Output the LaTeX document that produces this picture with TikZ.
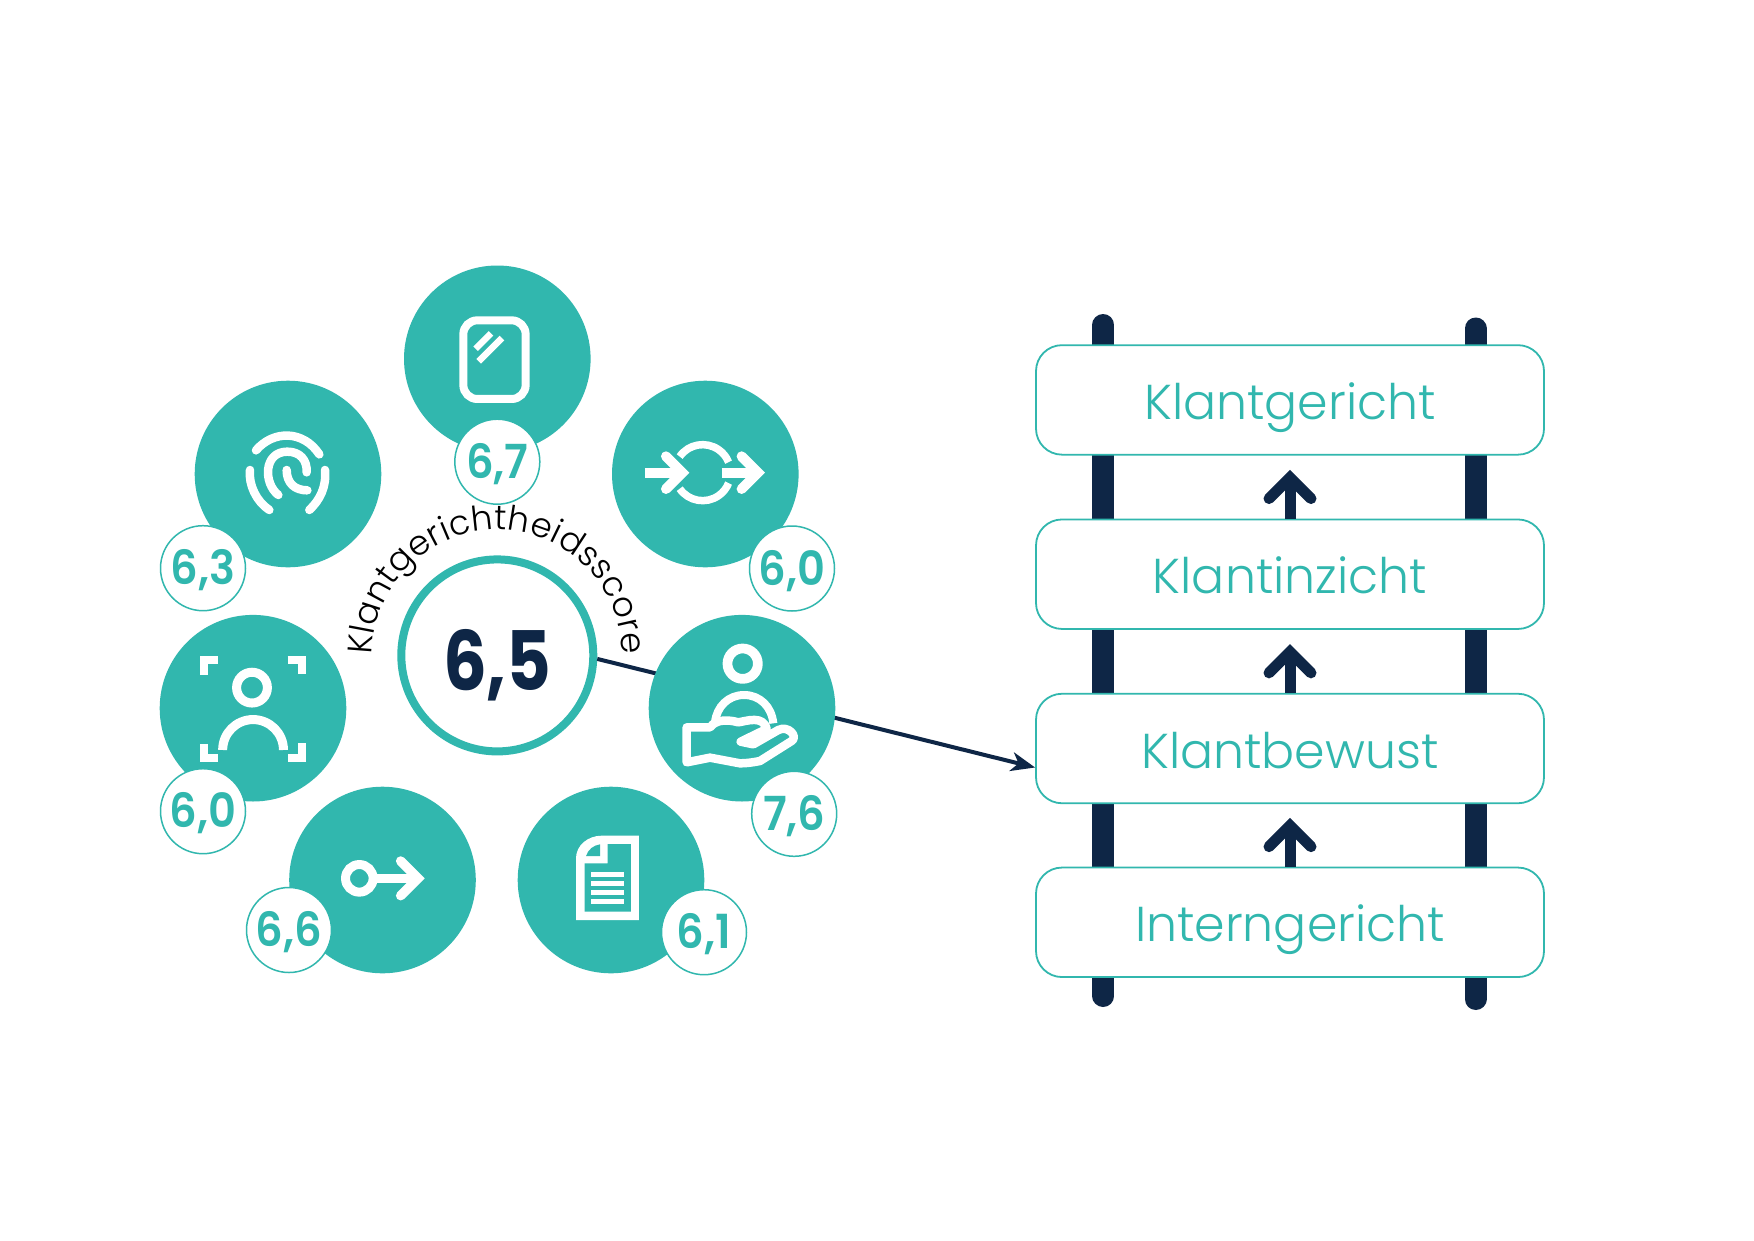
\documentclass[tikz,border=0pt]{standalone}
\usepackage{graphicx}
\usepackage{fontspec}
\setmainfont{Poppins}
\newfontfamily\lightf{Poppins Light}
\newfontfamily\medf{Poppins SemiBold}
\usetikzlibrary{arrows.meta,decorations.text}
\definecolor{teal1}{HTML}{31B7AE}
\definecolor{navy1}{HTML}{0E2646}
\newcommand\arcfont{\lightf\fontsize{34}{34}\selectfont}
\newcommand\bnum[1]{\scalebox{.92}[1]{#1}}
\tikzset{
  bigc/.style={circle,fill=teal1,minimum size=186.6pt,inner sep=0pt},
  badge/.style={circle,draw=teal1,fill=white,line width=1.5pt,minimum size=85pt,inner sep=0pt,text=teal1,
    font=\medf\fontsize{47}{47}\selectfont,text height=33pt,text depth=0pt},
  ring/.style={circle,draw=teal1,fill=white,line width=8pt,minimum size=192pt,inner sep=0pt,text=navy1,
    font=\bfseries\fontsize{82}{82}\selectfont,text height=70pt,text depth=0pt},
  rungbox/.style={rectangle,rounded corners=26pt,draw=teal1,fill=white,line width=1.8pt,minimum width=508pt,minimum height=109.5pt,
    inner sep=0pt,text=teal1,font=\lightf\fontsize{49}{49}\selectfont,text height=50pt,text depth=10.8pt},
  rail/.style={draw=navy1,line width=22pt,line cap=round},
  rungline/.style={draw=navy1,line width=11pt,shorten >=23pt},
  runghead/.style={draw=navy1,line width=11pt,line cap=round,miter limit=10},
  icon/.style={draw=white,line width=8.5pt,line cap=round,line join=round},
  iconb/.style={draw=white,line width=9pt,line cap=butt,line join=miter},
  iconm/.style={draw=white,line width=9.5pt,line cap=round,line join=miter,miter limit=10},
  link/.style={draw=navy1,line width=4pt,-{Stealth[length=24pt,width=19pt,inset=7pt]}},
}
\begin{document}
\begin{tikzpicture}[x=1pt,y=-1pt]
\useasboundingbox (0,0) rectangle (1754,1240);
\fill[white] (0,0) rectangle (1754,1240);

% ladder rails
\coordinate (rat) at (1103.3,325);
\coordinate (rab) at (1103.3,996);
\coordinate (rbt) at (1475.5,328.5);
\coordinate (rbb) at (1475.5,999);
\draw[rail] (rat) -- (rab);
\draw[rail] (rbt) -- (rbb);

% ladder boxes
\node[rungbox] (b1) at (1290,399.9) {Klantgericht};
\node[rungbox] (b2) at (1290,574.2) {Klantinzicht};
\node[rungbox] (b3) at (1290,748.5) {Klantbewust};
\node[rungbox] (b4) at (1290,922.3) {Interngericht};

% rung arrows
\draw[rungline] (b2.north) -- (b1.south);
\draw[runghead] ([shift={(-21,-20)}]b2.north) -- ([shift={(0,-41)}]b2.north) -- ([shift={(21,-20)}]b2.north);
\draw[rungline] (b3.north) -- (b2.south);
\draw[runghead] ([shift={(-21,-20)}]b3.north) -- ([shift={(0,-41)}]b3.north) -- ([shift={(21,-20)}]b3.north);
\draw[rungline] (b4.north) -- (b3.south);
\draw[runghead] ([shift={(-21,-20)}]b4.north) -- ([shift={(0,-41)}]b4.north) -- ([shift={(21,-20)}]b4.north);

% centre score and link
\node[ring] (score) at (497.3,655.4) {\scalebox{.84}[1]{6,5}};
\draw[link] (score.-2) -- ([yshift=-19pt]b3.west);

% big circles
\node[bigc] (top) at (497.3,358.8) {};
\node[bigc] (tr)  at (705.3,474) {};
\node[bigc] (tl)  at (288,474) {};
\node[bigc] (l)   at (253,708.2) {};
\node[bigc] (r)   at (742,708.2) {};
\node[bigc] (bl)  at (382.5,880) {};
\node[bigc] (br)  at (611,880) {};

% tablet and shuffle icons
\begin{scope}[shift={(380,250)},x=.3333pt,y=-.3333pt]
\draw[draw=white,line width=8pt,rounded corners=14pt] (250,211) rectangle (437,447);
\draw[draw=white,line width=6.4pt] (287,296) -- (333,250);
\draw[draw=white,line width=6.4pt] (296,334) -- (366,264);
\draw[draw=white,line width=7.5pt] (968,668) ++(145:28pt) arc[start angle=145,end angle=22,radius=28pt];
\draw[draw=white,line width=7.5pt] (968,668) ++(215:28pt) arc[start angle=215,end angle=338,radius=28pt];
\draw[draw=white,line width=10pt] (795,668) -- (905,668);
\draw[draw=white,line width=10pt] (1025,668) -- (1132,668);
\draw[draw=white,line width=10pt,line cap=round,line join=miter,miter limit=10] (858,619) -- (907,668) -- (858,717);
\draw[draw=white,line width=10pt,line cap=round,line join=miter,miter limit=10] (1085,619) -- (1134,668) -- (1085,717);
\end{scope}

% fingerprint icon
\begin{scope}[shift={(230,415)},x=.3333pt,y=-.3333pt]
\draw[icon] (78,106) .. controls (130,45) and (220,45) .. (268,118);
\draw[icon] (60,165) .. controls (55,210) and (80,260) .. (118,285);
\draw[icon] (285,165) .. controls (290,215) and (270,255) .. (238,285);
\draw[icon] (145,240) .. controls (100,205) and (100,110) .. (172,110) .. controls (210,110) and (232,135) .. (230,172);
\draw[icon] (232,226) .. controls (195,226) and (170,205) .. (170,165);
\end{scope}

% face-scan icon
\begin{scope}[shift={(140,370)},x=.3333pt,y=-.3333pt]
\draw[iconb] (336,953) circle[radius=15.4pt];
\draw[iconb] (248,1140) arc[start angle=180,end angle=0,radius=30.4pt];
\draw[draw=white,line width=8.2pt] (234,870) -- (192,870) -- (192,915);
\draw[draw=white,line width=8.2pt] (443,870) -- (486,870) -- (486,912);
\draw[draw=white,line width=8.2pt] (192,1122) -- (192,1163) -- (234,1163);
\draw[draw=white,line width=8.2pt] (486,1120) -- (486,1163) -- (444,1163);
\end{scope}

% hand icon
\begin{scope}[shift={(670,635)},x=.3333pt,y=-.3333pt]
\draw[draw=white,line width=9.7pt] (218,86) circle[radius=15.2pt];
\draw[draw=white,line width=8pt] (135,262) .. controls (140,215) and (175,180) .. (222,180) .. controls (270,180) and (305,215) .. (310,265);
\draw[draw=white,fill=teal1,line width=8.5pt,line join=round]
  (50,277) -- (120,277) .. controls (140,250) and (180,255) .. (205,262) .. controls (230,258) and (280,240) .. (290,282)
  -- (212,320) -- (250,328) -- (325,285) .. controls (355,270) and (385,305) .. (365,318) -- (270,378)
  .. controls (250,382) and (230,385) .. (210,385) -- (120,368) -- (50,382) -- cycle;
\end{scope}

% document icon
\begin{scope}[shift={(560,820)},x=.3333pt,y=-.3333pt]
\fill[white] (48,300) -- (48,115) .. controls (48,75) and (85,47) .. (125,47) -- (237,47) -- (237,300) -- cycle;
\fill[teal1] (74,275) -- (74,130) -- (143,130) -- (143,72) -- (213,72) -- (213,275) -- cycle;
\fill[teal1] (78,108) .. controls (85,88) and (100,76) .. (120,73) -- (120,108) -- cycle;
\fill[white] (93,157) rectangle (192,172);
\fill[white] (93,183) rectangle (192,198);
\fill[white] (93,209) rectangle (192,224);
\fill[white] (93,236) rectangle (192,251);
\end{scope}

% key-arrow icon
\begin{scope}[shift={(330,850)},x=.3333pt,y=-.3333pt]
\draw[iconb] (88,85) circle[radius=13.8pt];
\draw[draw=white,line width=8.7pt] (130,85) -- (262,85);
\draw[iconm] (212,33) -- (264,85) -- (212,137);
\end{scope}

% badges
\node[badge] (n1) at (497.3,461.7) {\bnum{6,7}};
\node[badge] (n2) at (792,568.5) {\bnum{6,0}};
\node[badge] (n3) at (203,568.2) {\bnum{6,3}};
\node[badge] (n4) at (203,811.2) {\bnum{6,0}};
\node[badge] (n5) at (289,930) {\bnum{6,6}};
\node[badge] (n6) at (704,932.2) {\bnum{6,1}};
\node[badge] (n7) at (794.2,813.8) {\bnum{7,6}};

% curved caption
\path[decorate,decoration={text along path,text align={fit to path},
  text={|\arcfont|Klantgerichtheidsscore}}]
  (372.3,655) .. controls (372.3,586) and (428.3,530) .. (497.3,530)
  .. controls (566.3,530) and (622.3,586) .. (622.3,655);
\end{tikzpicture}
\end{document}
